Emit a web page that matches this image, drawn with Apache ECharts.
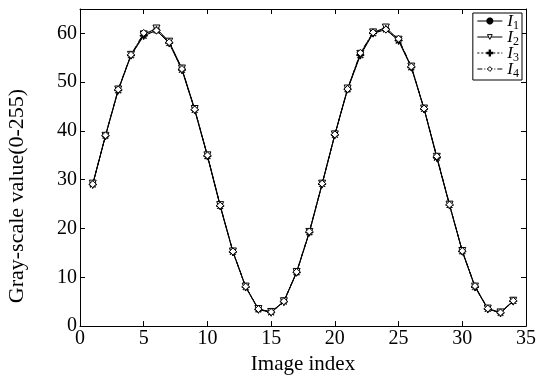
<!DOCTYPE html>
<html>
<head>
<meta charset="utf-8">
<script src="https://cdn.jsdelivr.net/npm/echarts@6/dist/echarts.min.js"></script>
<style>
  html, body { margin: 0; padding: 0; background: #fff; }
  #chart { width: 539px; height: 380px; }
</style>
</head>
<body>
<div id="chart"></div>
<script>
// image index along x
const imageIndex = [1, 2, 3, 4, 5, 6, 7, 8, 9, 10, 11, 12, 13, 14, 15, 16, 17,
  18, 19, 20, 21, 22, 23, 24, 25, 26, 27, 28, 29, 30, 31, 32, 33, 34];

// gray-scale values
const i1 = [29, 39, 48.3, 55.5, 59.5, 60.6, 58, 52.5, 44.3, 34.8, 24.6, 15.2, 8, 3.4, 2.8, 5,
  11, 19.2, 29.1, 39.2, 48.5, 55.5, 60, 60.8, 58.5, 53, 44.5, 34.5, 24.8, 15.3, 8, 3.5, 2.7, 5.1];
const i2 = [29.2, 39, 48.5, 55.6, 59.8, 61, 58.3, 52.8, 44.5, 35, 24.8, 15.3, 8.1, 3.5, 2.9, 5.1,
  11.1, 19.3, 29.2, 39.3, 48.7, 55.8, 60.2, 61.2, 58.7, 53.2, 44.6, 34.7, 24.9, 15.4, 8.1, 3.6, 2.8, 5.2];
const i3 = [29, 39, 48.4, 55.5, 59.6, 60.7, 58.1, 52.6, 44.4, 34.9, 24.7, 15.2, 8, 3.4, 2.8, 5,
  11, 19.2, 29.1, 39.2, 48.6, 55.6, 60.1, 60.9, 58.6, 53.1, 44.5, 34.6, 24.8, 15.3, 8, 3.5, 2.7, 5.1];
const i4 = [29.1, 39.1, 48.5, 55.6, 60.1, 60.6, 58.2, 52.7, 44.4, 35, 24.7, 15.3, 8.1, 3.5, 2.9, 5.1,
  11.1, 19.4, 29.2, 39.3, 48.6, 56, 60.2, 60.8, 58.9, 53.2, 44.6, 34.8, 24.9, 15.4, 8.2, 3.6, 2.8, 5.2];

const seriesNames = ["I1", "I2", "I3", "I4"];

const serif = "'Liberation Serif', 'DejaVu Serif', serif";
const asterisk = "path://M4.5,0h1v10h-1z M0,4.5h10v1h-10z M1,1.7l0.7,-0.7l7.3,7.3l-0.7,0.7z M8.3,1l0.7,0.7l-7.3,7.3l-0.7,-0.7z";
const plus = "path://M4.6,0h0.8v10h-0.8z M0,4.6h10v0.8h-10z";
const hollow = { color: "#fff", borderColor: "#000", borderWidth: 1 };

function pairs(ys) {
  return imageIndex.map((x, k) => [x, ys[k]]);
}

function makeSeries(name, ys, symbol, size, dash, extra) {
  return Object.assign({
    name,
    type: "line",
    data: pairs(ys),
    symbol,
    symbolSize: size,
    showSymbol: true,
    lineStyle: { color: "#000", width: 1, type: dash },
    itemStyle: { color: "#000", borderColor: "#000", borderWidth: 1 },
    emphasis: { disabled: true },
    animation: false
  }, extra || {});
}

const tickStyle = { inside: true, length: 5, lineStyle: { color: "#000" } };
const axisLine = { show: true, onZero: false, lineStyle: { color: "#000", width: 1 } };
const labelFont = { color: "#000", fontFamily: serif, fontSize: 20 };

const chart = echarts.init(document.getElementById("chart"));
chart.setOption({
  backgroundColor: "#fff",
  animation: false,
  grid: { left: 80, right: 13, top: 9, bottom: 41 },
  xAxis: [
    {
      type: "value", min: 0, max: 35, interval: 5,
      axisLine, axisTick: tickStyle, splitLine: { show: false },
      axisLabel: Object.assign({ margin: 3 }, labelFont),
      name: "Image index", nameLocation: "middle", nameGap: 19,
      nameTextStyle: { color: "#000", fontFamily: serif, fontSize: 21 }
    },
    {
      type: "value", position: "top", min: 0, max: 35, interval: 5,
      axisLine, axisTick: tickStyle, splitLine: { show: false },
      axisLabel: { show: false }
    }
  ],
  yAxis: [
    {
      type: "value", min: 0, max: 65, interval: 10,
      axisLine, axisTick: tickStyle, splitLine: { show: false },
      axisLabel: Object.assign({ margin: 3, formatter: v => (v > 60 ? "" : String(v)) }, labelFont)
    },
    {
      type: "value", position: "right", min: 0, max: 65, interval: 10,
      axisLine, axisTick: tickStyle, splitLine: { show: false },
      axisLabel: { show: false }
    }
  ],
  graphic: [{
    type: "text",
    x: 17, y: 196, rotation: Math.PI / 2,
    style: {
      text: "Gray-scale value(0-255)",
      fill: "#000", font: "22px " + serif,
      align: "center", verticalAlign: "middle"
    }
  }],
  legend: {
    right: 17, top: 13, orient: "vertical",
    backgroundColor: "#fff", borderColor: "#000", borderWidth: 1,
    padding: [0, 3, 0, 4], itemGap: -3, itemWidth: 25, itemHeight: 6,
    lineStyle: { width: 1 },
    data: [
      { name: seriesNames[0] },
      { name: seriesNames[1], itemStyle: hollow },
      { name: seriesNames[2] },
      { name: seriesNames[3], itemStyle: hollow }
    ],
    formatter: name => "{i|I}{s|" + name.slice(1) + "}",
    textStyle: {
      lineHeight: 16,
      rich: {
        i: { fontFamily: serif, fontStyle: "italic", fontSize: 17, color: "#000", lineHeight: 16, verticalAlign: "top" },
        s: { fontFamily: serif, fontSize: 12, color: "#000", lineHeight: 8, padding: [7, 0, 0, 0], verticalAlign: "top" }
      }
    }
  },
  series: [
    makeSeries("I1", i1, asterisk, 7, "solid"),
    makeSeries("I2", i2, "triangle", 7, "solid", { symbolRotate: 180, itemStyle: hollow }),
    makeSeries("I3", i3, plus, 7, [2, 2]),
    makeSeries("I4", i4, "diamond", 7, [5, 2, 1, 2], { itemStyle: hollow })
  ]
});
</script>
</body>
</html>
